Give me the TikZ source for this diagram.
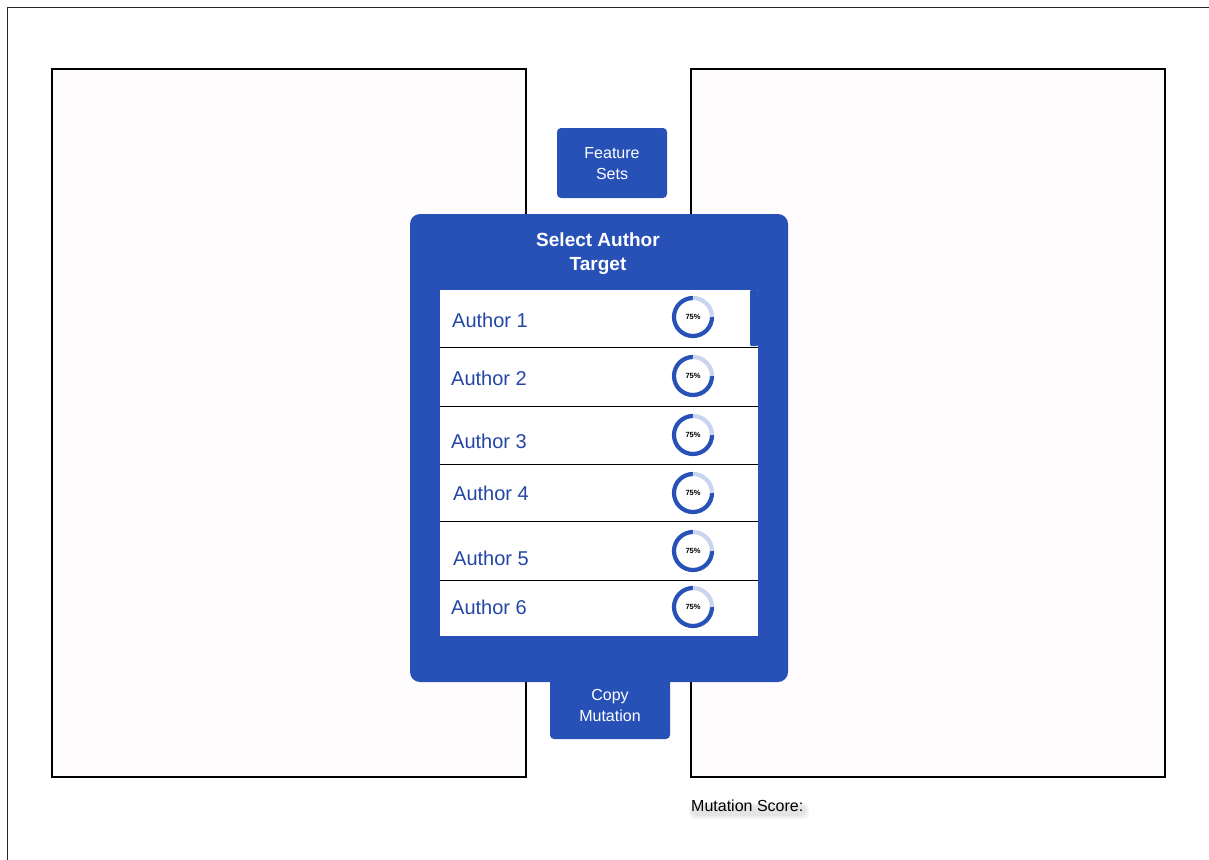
\documentclass[tikz,border=0pt]{standalone}
\usepackage{fontspec}
\setmainfont{Liberation Sans}
\usetikzlibrary{calc}
\definecolor{uiblue}{HTML}{2851B8}
\definecolor{authorblue}{HTML}{2446A6}
\definecolor{ringlight}{HTML}{C9D5EF}
\definecolor{panelfill}{HTML}{FEFCFD}
\tikzset{
  panel/.style={draw=black, line width=1.6pt, fill=panelfill},
  bluebtn/.style={fill=uiblue, rounded corners=4pt, draw=none},
  btntext/.style={text=white, align=center, font=\fontsize{16}{21}\selectfont, inner sep=0pt},
  authorlabel/.style={anchor=west, text=authorblue, font=\fontsize{20}{24}\selectfont, inner sep=0pt},
  rowline/.style={draw=black, line width=1pt},
  pct/.style={font=\bfseries\fontsize{7.5}{8}\selectfont, inner sep=0pt},
  scorefont/.style={anchor=west, inner sep=0pt, font=\fontsize{16}{19}\selectfont}
}
% a 75% progress ring centred at #1 (y axis points down, so angles run clockwise)
\newcommand{\progressring}[2]{%
  \draw[uiblue, line width=4.2pt] ($(#1)+(19,0)$) arc[start angle=0, end angle=270, radius=19];
  \draw[ringlight, line width=4.2pt] ($(#1)+(0,-19)$) arc[start angle=270, end angle=360, radius=19];
  \node[pct] (#2) at (#1) {75\%};
}
\begin{document}
\begin{tikzpicture}[x=1pt, y=-1pt]
\useasboundingbox (0,0) rectangle (1209,859);
\fill[white] (0,0) rectangle (1209,859);
% outer frame
\draw[black!85, line width=1pt] (7,862) -- (7,8) -- (1212,8);
% side panels
\draw[panel] (52,69) rectangle (526,777);
\draw[panel] (691,69) rectangle (1165,777);
% top button
\fill[bluebtn] (557,128) rectangle (667,198);
\node[btntext] (feature) at (612,164) {Feature\\Sets};
% bottom button
\fill[bluebtn] (550,670) rectangle (670,739);
\node[btntext] (copy) at (610,705) {Copy\\Mutation};
% main dialog
\fill[uiblue, rounded corners=10pt] (410,214) rectangle (788,682);
\node[text=white, align=center, font=\bfseries\fontsize{19}{24}\selectfont, inner sep=0pt] (title) at (598,254) {Select Author\\Target};
% list area
\fill[white] (440,290) rectangle (758,636);
\fill[uiblue, rounded corners=1pt] (750,290) rectangle (758,346);
\foreach \y in {347,406,464,521,580} {
  \draw[rowline] (440,\y) -- (758,\y);
}
\node[authorlabel] (a1) at (452,320) {Author 1};
\node[authorlabel] (a2) at (451,378) {Author 2};
\node[authorlabel] (a3) at (451,441) {Author 3};
\node[authorlabel] (a4) at (453,493) {Author 4};
\node[authorlabel] (a5) at (453,558) {Author 5};
\node[authorlabel] (a6) at (451,607) {Author 6};
\coordinate (r1) at (693,317);
\coordinate (r2) at (693,376);
\coordinate (r3) at (693,435);
\coordinate (r4) at (693,493);
\coordinate (r5) at (693,551);
\coordinate (r6) at (693,607);
\progressring{r1}{p1}
\progressring{r2}{p2}
\progressring{r3}{p3}
\progressring{r4}{p4}
\progressring{r5}{p5}
\progressring{r6}{p6}
% soft shadow under the score label
\foreach \g in {0,1.5,3} {
  \fill[black, opacity=0.035, rounded corners=5pt] (692-\g,806-\g) rectangle (806+\g,816+\g);
}
\node[scorefont, text=black] (score) at (691,806) {Mutation Score:};
\end{tikzpicture}
\end{document}
